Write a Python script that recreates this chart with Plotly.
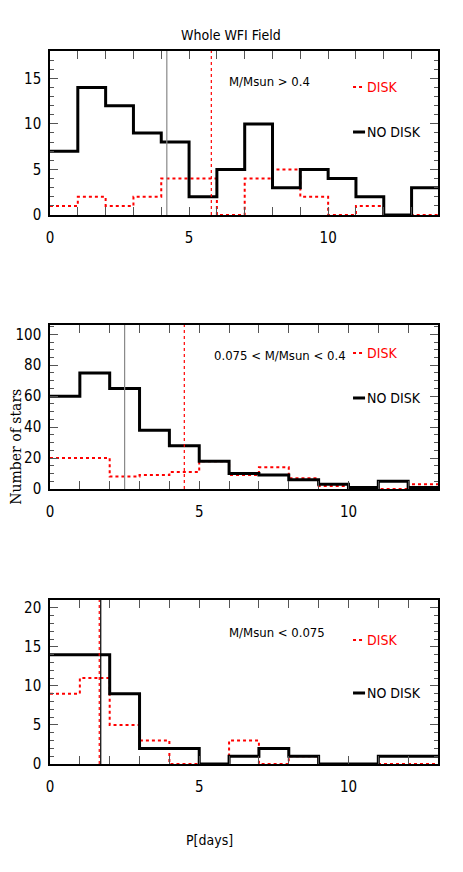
import plotly.graph_objects as go
from plotly.subplots import make_subplots

# bin edges (days) and counts per 1-day bin
edges_top = list(range(0, 15))
edges_low = list(range(0, 14))

nodisk_high = [7, 14, 12, 9, 8, 2, 5, 10, 3, 5, 4, 2, 0, 3]
disk_high = [1, 2, 1, 2, 4, 4, 0, 4, 5, 2, 0, 1, 0, 0]

nodisk_mid = [60, 75, 65, 38, 28, 18, 10, 9, 6, 3, 1, 5, 1]
disk_mid = [20, 20, 8, 9, 11, 18, 9, 14, 7, 2, 1, 0, 3]

nodisk_bd = [14, 14, 9, 2, 2, 0, 1, 2, 1, 0, 0, 1, 1]
disk_bd = [9, 11, 5, 3, 0, 0, 3, 0, 1, 0, 0, 0, 0]

median_nodisk = [4.2, 2.5, 1.7]
median_disk = [5.8, 4.5, 1.65]

mass_labels = ["M/Msun > 0.4", "0.075 < M/Msun < 0.4", "M/Msun < 0.075"]

FONT = "DejaVu Sans Condensed, Liberation Sans Narrow, Liberation Sans, sans-serif"

fig = make_subplots(rows=3, cols=1)

panels = [
    (edges_top, nodisk_high, disk_high),
    (edges_low, nodisk_mid, disk_mid),
    (edges_low, nodisk_bd, disk_bd),
]


def step(edges, counts):
    return edges, list(counts) + [counts[-1]]


for i, (edges, nd, dk) in enumerate(panels, start=1):
    x, y = step(edges, dk)
    fig.add_trace(go.Scatter(x=x, y=y, mode="lines", line_shape="hv",
                             line=dict(color="red", width=2, dash="dot"),
                             showlegend=False), row=i, col=1)
    x, y = step(edges, nd)
    fig.add_trace(go.Scatter(x=x, y=y, mode="lines", line_shape="hv",
                             line=dict(color="black", width=3),
                             showlegend=False), row=i, col=1)

# median markers
med_colors = ["#888888", "#888888", "black"]
for i in range(3):
    xref = "x" if i == 0 else f"x{i + 1}"
    yref = "y domain" if i == 0 else f"y{i + 1} domain"
    fig.add_shape(type="line", xref=xref, yref=yref, x0=median_nodisk[i], x1=median_nodisk[i],
                  y0=0, y1=1, line=dict(color=med_colors[i], width=1.2))
    fig.add_shape(type="line", xref=xref, yref=yref, x0=median_disk[i], x1=median_disk[i],
                  y0=0, y1=1, line=dict(color="red", width=1.2, dash="dot"))

# per-panel legend and mass labels
leg_pos = [(0.78, 0.506, 0.811, 0.567), (0.83, 0.555, 0.817, 0.593), (0.756, 0.433, 0.80, 0.585)]
for i, (yd, ynd, ym, xm) in enumerate(leg_pos):
    xref = "x domain" if i == 0 else f"x{i + 1} domain"
    yref = "y domain" if i == 0 else f"y{i + 1} domain"
    fig.add_shape(type="line", xref=xref, yref=yref, x0=0.781, x1=0.812, y0=yd, y1=yd,
                  line=dict(color="red", width=2, dash="dot"))
    fig.add_shape(type="line", xref=xref, yref=yref, x0=0.781, x1=0.812, y0=ynd, y1=ynd,
                  line=dict(color="black", width=3))
    fig.add_annotation(xref=xref, yref=yref, x=0.812, y=yd, text="DISK", showarrow=False,
                       xanchor="left", yanchor="middle",
                       font=dict(color="red", size=14, family=FONT))
    fig.add_annotation(xref=xref, yref=yref, x=0.812, y=ynd, text="NO DISK", showarrow=False,
                       xanchor="left", yanchor="middle",
                       font=dict(color="black", size=14, family=FONT))
    fig.add_annotation(xref=xref, yref=yref, x=xm, y=ym, text=mass_labels[i], showarrow=False,
                       xanchor="center", yanchor="middle",
                       font=dict(color="black", size=13, family=FONT))

fig.add_annotation(xref="paper", yref="paper", x=(231 - 50) / 388, y=1.022, text="Whole WFI Field",
                   showarrow=False, xanchor="center", yanchor="middle",
                   font=dict(size=14, family=FONT, color="black"))
fig.add_annotation(xref="paper", yref="paper", x=-0.0876, y=0.445, text="Number of stars",
                   textangle=-90, showarrow=False, xanchor="center", yanchor="middle",
                   font=dict(size=14, family="DejaVu Serif, Liberation Serif, serif", color="black"))
fig.add_annotation(xref="paper", yref="paper", x=(209 - 50) / 388, y=-0.107, text="P[days]",
                   showarrow=False, xanchor="center", yanchor="middle",
                   font=dict(size=14, family=FONT, color="black"))

domains = [[0.770, 1.0], [0.3857, 0.6157], [0.0, 0.230]]
xranges = [[0, 13.95], [0, 13], [0, 13]]
yranges = [[0, 18], [0, 106], [0, 21]]
ydticks = [5, 20, 5]
yminor = [1, 5, 1]

axis_common = dict(showgrid=False, zeroline=False, showline=True, linecolor="black", linewidth=1.5,
                   mirror="ticks", ticks="inside", ticklen=8, tickcolor="#555555", tickwidth=1.2,
                   automargin=False, tickfont=dict(size=15, family=FONT, color="black"))

for i in range(3):
    fig.update_xaxes(range=xranges[i], dtick=5, tick0=0, ticklabelstandoff=8,
                     minor=dict(dtick=1, ticks="inside", ticklen=8, tickcolor="#555555"),
                     row=i + 1, col=1, **axis_common)
    fig.update_yaxes(range=yranges[i], domain=domains[i], dtick=ydticks[i], tick0=0,
                     ticklabelstandoff=4,
                     minor=dict(dtick=yminor[i], ticks="inside", ticklen=4, tickcolor="#555555"),
                     row=i + 1, col=1, **axis_common)

# page body adds an 8px offset, so the figure is shrunk to fit the window
fig.update_layout(width=447, height=856, plot_bgcolor="white", paper_bgcolor="white",
                  margin=dict(l=42, r=17, t=43, b=100))

fig.write_html("out.html")
